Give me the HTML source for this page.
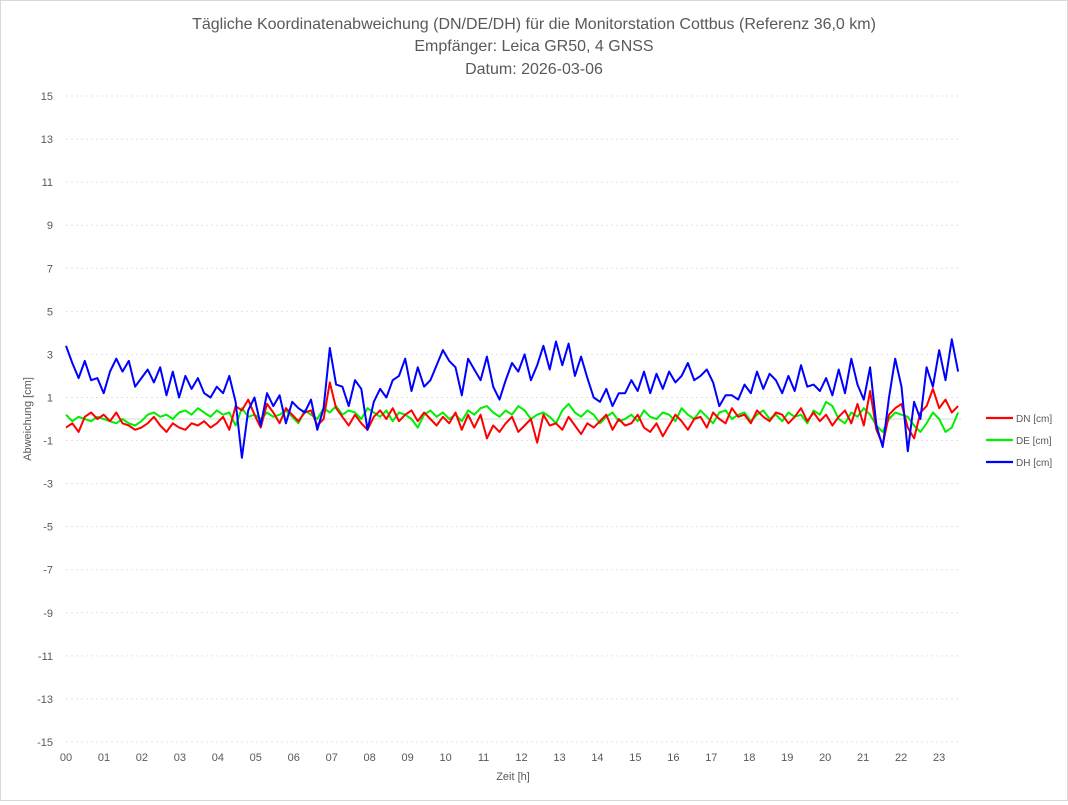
<!DOCTYPE html>
<html><head><meta charset="utf-8"><style>
body{margin:0;background:#fff}
#wrap{width:1068px;height:801px;position:relative;box-sizing:border-box;border:1px solid #d9d9d9;font-family:"Liberation Sans",sans-serif}
svg text{font-family:"Liberation Sans",sans-serif}
</style></head><body>
<div id="wrap">
<svg id="chart" width="1066" height="799">
<text x="533" y="28" text-anchor="middle" font-size="16" fill="#595959">Tägliche Koordinatenabweichung (DN/DE/DH) für die Monitorstation Cottbus (Referenz 36,0 km)</text>
<text x="533" y="50" text-anchor="middle" font-size="16" fill="#595959">Empfänger: Leica GR50, 4 GNSS</text>
<text x="533" y="73" text-anchor="middle" font-size="16" fill="#595959">Datum: 2026-03-06</text>
<text x="0" y="0" transform="translate(30,418) rotate(-90)" text-anchor="middle" font-size="11" fill="#595959">Abweichung [cm]</text>
<text x="512" y="779" text-anchor="middle" font-size="11" fill="#595959">Zeit [h]</text>
<g id="grid"></g><g id="series"></g><g id="legend"></g>
</svg></div>
<script>
const yTicks=[15,13,11,9,7,5,3,1,-1,-3,-5,-7,-9,-11,-13,-15];
const xTickLabels=["00","01","02","03","04","05","06","07","08","09","10","11","12","13","14","15","16","17","18","19","20","21","22","23"];
const DH=[3.4,2.6,1.9,2.7,1.8,1.9, 1.2,2.2,2.8,2.2,2.7,1.5, 1.9,2.3,1.7,2.4,1.1,2.2, 1.0,2.0,1.4,1.9,1.2,1.0, 1.5,1.2,2.0,0.8,-1.8,0.4, 1.0,-0.3,1.2,0.6,1.1,-0.2, 0.8,0.5,0.3,0.9,-0.5,0.5, 3.3,1.6,1.5,0.6,1.8,1.4, -0.5,0.8,1.4,1.0,1.8,2.0, 2.8,1.3,2.4,1.5,1.8,2.5, 3.2,2.7,2.4,1.1,2.8,2.3, 1.8,2.9,1.5,0.9,1.8,2.6, 2.2,3.0,1.8,2.5,3.4,2.3, 3.6,2.5,3.5,2.0,2.9,1.9, 1.0,0.8,1.4,0.6,1.2,1.2, 1.8,1.3,2.2,1.2,2.1,1.4, 2.2,1.7,2.0,2.6,1.8,2.0, 2.3,1.7,0.6,1.1,1.1,0.9, 1.6,1.2,2.2,1.4,2.1,1.8, 1.2,2.0,1.3,2.5,1.5,1.6, 1.3,1.9,1.1,2.3,1.2,2.8, 1.6,0.9,2.4,-0.3,-1.3,1.0, 2.8,1.5,-1.5,0.8,0.0,2.4, 1.5,3.2,1.8,3.7,2.2];
const DN=[-0.4,-0.2,-0.6,0.1,0.3,0.0, 0.2,-0.1,0.3,-0.2,-0.3,-0.5, -0.4,-0.2,0.1,-0.3,-0.6,-0.2, -0.4,-0.5,-0.2,-0.3,-0.1,-0.4, -0.2,0.1,-0.5,0.6,0.4,0.9, 0.2,-0.4,0.7,0.3,-0.2,0.5, 0.2,-0.1,0.3,0.4,-0.3,0.0, 1.7,0.5,0.1,-0.3,0.2,-0.2, -0.5,0.1,0.4,0.0,0.5,-0.1, 0.2,0.4,-0.1,0.3,0.0,-0.3, 0.1,-0.2,0.3,-0.5,0.2,-0.4, 0.2,-0.9,-0.3,-0.6,-0.2,0.1, -0.6,-0.3,0.0,-1.1,0.2,-0.3, -0.2,-0.5,0.1,-0.3,-0.7,-0.2, -0.4,-0.1,0.2,-0.5,0.0,-0.3, -0.2,0.2,-0.4,-0.6,-0.2,-0.8, -0.3,0.2,-0.1,-0.5,0.0,0.1, -0.4,0.3,0.0,-0.2,0.5,0.1, 0.2,-0.2,0.4,0.1,-0.1,0.3, 0.2,-0.2,0.1,0.5,-0.1,0.3, -0.1,0.2,-0.3,0.1,0.4,-0.2, 0.7,-0.3,1.3,-0.5,-1.2,0.2, 0.5,0.7,-0.4,-0.9,0.3,0.6, 1.4,0.5,0.9,0.3,0.6];
const DE=[0.2,-0.1,0.1,0.0,-0.1,0.1, 0.0,-0.1,-0.2,0.0,-0.2,-0.3, -0.1,0.2,0.3,0.1,0.2,0.0, 0.3,0.4,0.2,0.5,0.3,0.1, 0.4,0.2,0.3,-0.3,0.5,0.1, 0.2,0.0,0.3,0.1,0.2,0.4, 0.1,-0.2,0.4,0.2,0.0,0.5, 0.3,0.6,0.2,0.4,0.3,0.0, 0.5,0.3,0.1,0.4,-0.1,0.3, 0.2,0.0,-0.4,0.2,0.4,0.1, 0.3,0.0,0.2,-0.1,0.4,0.2, 0.5,0.6,0.3,0.1,0.4,0.2, 0.6,0.4,0.0,0.2,0.3,0.1, -0.2,0.4,0.7,0.3,0.1,0.4, 0.2,-0.2,0.1,0.3,-0.1,0.0, 0.2,-0.1,0.4,0.1,0.0,0.3, 0.2,-0.1,0.5,0.2,0.0,0.4, 0.1,-0.2,0.3,0.4,0.0,0.2, 0.3,-0.1,0.2,0.4,0.0,0.2, -0.1,0.3,0.1,0.2,-0.2,0.4, 0.2,0.8,0.6,0.0,-0.2,0.3, 0.1,0.5,0.2,-0.3,-0.6,0.0, 0.3,0.2,0.1,-0.3,-0.6,-0.2, 0.3,0.0,-0.6,-0.4,0.3];
const X0=65,PXH=37.96,Y0=418,PXU=21.53,TEND=23.5;
const xs=h=>X0+h*PXH, ys=v=>Y0-v*PXU;
const NS="http://www.w3.org/2000/svg";
const grid=document.getElementById('grid'),ser=document.getElementById('series'),leg=document.getElementById('legend');
function mk(tag,a,p){const e=document.createElementNS(NS,tag);for(const k in a)e.setAttribute(k,a[k]);p.appendChild(e);return e;}
yTicks.forEach(v=>{
 const l=mk('line',{x1:X0,x2:960,y1:ys(v),y2:ys(v),stroke:'#e3e3e3','stroke-dasharray':'2,3'},grid);
 
 
 const t=mk('text',{x:52,y:ys(v)+4,'text-anchor':'end','font-size':11,fill:'#595959'},grid);
 t.textContent=v;
 
 
});
const z=mk('line',{x1:X0,x2:960,y1:ys(0),y2:ys(0),stroke:'#d9d9d9'},grid);


xTickLabels.forEach((s,i)=>{
 const t=mk('text',{x:xs(i),y:760,'text-anchor':'middle','font-size':11,fill:'#595959'},grid);
 t.textContent=s;
 
 
});
const series=[["DN [cm]",DN,"#ff0000","series-dn"],["DE [cm]",DE,"#00ee00","series-de"],["DH [cm]",DH,"#0000ff","series-dh"]];
[series[1],series[0],series[2]].forEach(([n,d,c,id])=>{
 const pts=d.map((v,i)=>xs(i*TEND/(d.length-1)).toFixed(1)+','+ys(v).toFixed(1)).join(' ');
 const p=mk('polyline',{points:pts,fill:'none',stroke:c,'stroke-width':2,'stroke-linejoin':'round'},ser);
 
 
});
series.forEach(([n,d,c,id],i)=>{
 const y=417+i*22;
 const l=mk('line',{x1:985,x2:1012,y1:y,y2:y,stroke:c,'stroke-width':2.2},leg);
 
 
 const t=mk('text',{x:1015,y:y+4,'font-size':10,fill:'#595959'},leg);
 t.textContent=n;
 
 
});
</script></body></html>
